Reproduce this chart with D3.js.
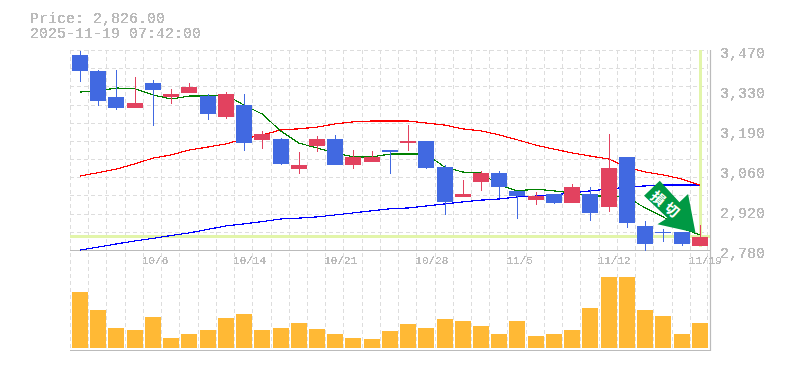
<!DOCTYPE html>
<html>
<head>
<meta charset="utf-8">
<script src="https://cdn.jsdelivr.net/npm/d3@7"></script>
<style>
  html, body { margin: 0; padding: 0; background: #fff; overflow: hidden; }
  text { font-family: "Liberation Mono", monospace; fill: #bbb; }
</style>
</head>
<body>
<div id="chart"></div>
<script>
// chart data
var dates = ["9/30","10/1","10/2","10/3","10/6","10/7","10/8","10/9","10/10","10/14","10/15","10/16","10/17","10/20","10/21","10/22","10/23","10/24","10/27","10/28","10/29","10/30","10/31","11/4","11/5","11/6","11/7","11/10","11/11","11/12","11/13","11/14","11/17","11/18","11/19"];
var opens  = [3453,3398,3308,3270,3356,3308,3322,3311,3239,3280,3160,3163,3059,3139,3163,3073,3084,3125,3149,3156,3066,2963,3015,3046,2984,2952,2973,2942,2973,2928,3101,2863,2842,2842,2794];
var closes = [3398,3294,3270,3287,3332,3318,3342,3249,3318,3149,3180,3077,3073,3163,3073,3101,3101,3118,3156,3063,2946,2973,3046,2997,2966,2966,2942,2997,2908,3063,2873,2801,2839,2801,2826];
var highs  = [3467,3401,3401,3377,3367,3336,3356,3318,3325,3318,3191,3166,3118,3173,3177,3125,3122,3125,3211,3156,3073,3022,3053,3053,2984,2980,2973,3008,2997,3180,3101,2880,2852,2842,2866];
var lows   = [3361,3278,3263,3270,3208,3284,3322,3229,3232,3122,3128,3073,3042,3118,3073,3059,3084,3042,3122,3059,2901,2963,2984,2959,2887,2935,2939,2942,2880,2911,2856,2777,2808,2794,2794];
var maShort = [3325,3329,3339,3336,3315,3301,3311,3311,3315,3280,3249,3191,3149,3132,3115,3101,3101,3111,3111,3111,3066,3049,3046,3004,2984,2990,2984,2977,2966,2966,2963,2925,2894,2856,2832];
var maMid   = [3035,3047,3059,3077,3097,3108,3125,3135,3146,3163,3177,3194,3198,3204,3215,3222,3225,3225,3225,3218,3211,3198,3191,3177,3160,3142,3128,3115,3104,3094,3066,3049,3039,3025,3004];
var maLong  = [2780,2790,2801,2811,2820,2830,2839,2851,2863,2870,2878,2887,2890,2894,2901,2908,2915,2922,2925,2932,2939,2946,2952,2956,2963,2966,2970,2977,2984,2990,2997,3001,3004,3004,3004];
var volumes = [789,535,282,254,437,141,197,254,423,479,254,282,352,268,197,141,127,239,338,282,408,380,310,197,380,169,197,254,563,1000,1000,535,451,197,352];
var xTickDates = ["10/6","10/14","10/21","10/28","11/5","11/12","11/19"];
var yTickValues = [3470,3332,3194,3056,2918,2780];
var yTickLabels = ["3,470","3,330","3,190","3,060","2,920","2,780"];
var lastPrice = 2826;
var titleLines = ["Price: 2,826.00","2025-11-19 07:42:00"];

var upColor = "#e2425f", downColor = "#4169e1", gridColor = "#ddd", frameColor = "#bbb";

var svg = d3.select("#chart")
  .append("svg")
    .attr("width", 785)
    .attr("height", 370)
    .style("display", "block");

// hard edged text, the reference has no font smoothing
var alias = svg.append("defs").append("filter")
    .attr("id", "alias")
    .attr("color-interpolation-filters", "sRGB");
alias.append("feComponentTransfer")
  .append("feFuncA")
    .attr("type", "discrete")
    .attr("tableValues", "0 1 1");

// scales
var x = d3.scaleBand().domain(dates).range([70, 708]);
var y = d3.scaleLinear().domain([2780, 3470]).range([250, 50]);
var yVol = d3.scaleLinear().domain([0, 1000]).range([348, 277]);

// grid
var hGrid = d3.range(0, 12).map(function(i) { return 50 + i * 200 / 11; });
svg.append("g").selectAll("line")
  .data(hGrid).enter().append("line")
    .attr("x1", 70).attr("x2", 708)
    .attr("y1", function(d) { return Math.round(d) + 0.5; })
    .attr("y2", function(d) { return Math.round(d) + 0.5; })
    .attr("stroke", gridColor).attr("stroke-dasharray", "4,3");
svg.append("g").selectAll("line")
  .data(dates.concat(["end"])).enter().append("line")
    .attr("x1", function(d) { return gridX(d); })
    .attr("x2", function(d) { return gridX(d); })
    .attr("y1", 50).attr("y2", 350)
    .attr("stroke", gridColor).attr("stroke-dasharray", "4,3");

function gridX(d) {
  return d === "end" ? 707.5 : Math.round(x(d)) + 0.5;
}

// last price markers
svg.append("rect")
    .attr("x", 70).attr("width", 640)
    .attr("y", Math.round(y(lastPrice)) - 2).attr("height", 3)
    .attr("fill", "#e2f5aa");
svg.append("rect")
    .attr("x", Math.round(x("11/19") + 9)).attr("width", 3)
    .attr("y", 50).attr("height", 197)
    .attr("fill", "#e2f5aa");

// frame
svg.append("path")
    .attr("d", "M70,250.5H710.5M70,350.5H710.5M710.5,50V351")
    .attr("fill", "none").attr("stroke", frameColor).attr("stroke-width", 1.2);

// moving averages
var line = d3.line()
    .x(function(d, i) { return x(dates[i]) + 10; })
    .y(function(d) { return y(d); });
[[maLong, "#0000ff"], [maMid, "#ff0000"], [maShort, "#008000"]].forEach(function(s) {
  svg.append("path")
      .attr("d", line(s[0]))
      .attr("fill", "none")
      .attr("stroke", s[1])
      .attr("stroke-width", 1.2)
      .attr("shape-rendering", "crispEdges");
});

// candles
var candles = svg.append("g").attr("shape-rendering", "crispEdges");
function candleColor(i) { return closes[i] >= opens[i] ? upColor : downColor; }

candles.selectAll(".wick")
  .data(dates).enter().append("rect")
    .attr("class", "wick")
    .attr("x", function(d) { return x(d) + 10; })
    .attr("width", 1)
    .attr("y", function(d, i) { return y(highs[i]); })
    .attr("height", function(d, i) { return y(lows[i]) - y(highs[i]); })
    .attr("fill", function(d, i) { return candleColor(i); });

candles.selectAll(".body")
  .data(dates).enter().append("rect")
    .attr("class", "body")
    .attr("x", function(d) { return x(d) + 2; })
    .attr("width", 16)
    .attr("y", function(d, i) { return y(Math.max(opens[i], closes[i])); })
    .attr("height", function(d, i) { return Math.max(1, Math.abs(y(opens[i]) - y(closes[i]))); })
    .attr("fill", function(d, i) { return candleColor(i); });

// volume
svg.append("g").attr("shape-rendering", "crispEdges")
  .selectAll("rect")
  .data(dates).enter().append("rect")
    .attr("x", function(d) { return x(d) + 2; })
    .attr("width", 16)
    .attr("y", function(d, i) { return yVol(volumes[i]); })
    .attr("height", function(d, i) { return yVol(0) - yVol(volumes[i]); })
    .attr("fill", "#ffb935");

// axes
var xAxis = svg.append("g")
    .attr("transform", "translate(0,250)")
    .attr("filter", "url(#alias)")
    .call(d3.axisBottom(x).tickValues(xTickDates).tickSize(0).tickPadding(6));
xAxis.select(".domain").remove();
xAxis.selectAll("text")
    .attr("font-family", null)
    .style("font-size", "11px")
    .style("text-anchor", "start")
    .attr("x", -x.bandwidth() / 2 - 1);

var yAxis = svg.append("g")
    .attr("transform", "translate(720,3)")
    .attr("filter", "url(#alias)")
    .call(d3.axisRight(y)
      .tickValues(yTickValues)
      .tickFormat(function(d, i) { return yTickLabels[i]; })
      .tickSize(0).tickPadding(0));
yAxis.select(".domain").remove();
yAxis.selectAll("text")
    .attr("font-family", null)
    .style("font-size", "15px");

// header
svg.append("g").attr("filter", "url(#alias)")
  .selectAll(".title")
  .data(titleLines).enter().append("text")
    .attr("class", "title")
    .attr("x", 30)
    .attr("y", function(d, i) { return 23 + i * 15; })
    .style("font-size", "15px")
    .text(function(d) { return d; });

// stop-loss stamp, placed from the last candle
var tipX = x("11/19") + 5.7, tipY = y(lastPrice) - 4;
var stamp = svg.append("g").attr("transform", "translate(" + tipX + "," + tipY + ")");
stamp.append("path")
    .attr("d", "M-35.7,-52 L-51.4,-37 L-28,-14.7 L-38,-8.4 L0,0 L-7.4,-38.7 L-16,-30.4 Z")
    .attr("fill", "#009944");
stamp.append("text")
    .attr("transform", "translate(-30.5,-28.5) rotate(40)")
    .attr("text-anchor", "middle")
    .attr("dy", "0.36em")
    .attr("dx", 2)
    .style("font-family", "'Noto Sans CJK JP'")
    .style("font-weight", "700")
    .style("font-size", "14px")
    .style("letter-spacing", "4px")
    .style("fill", "#fff")
    .text("損切");
</script>
</body>
</html>
